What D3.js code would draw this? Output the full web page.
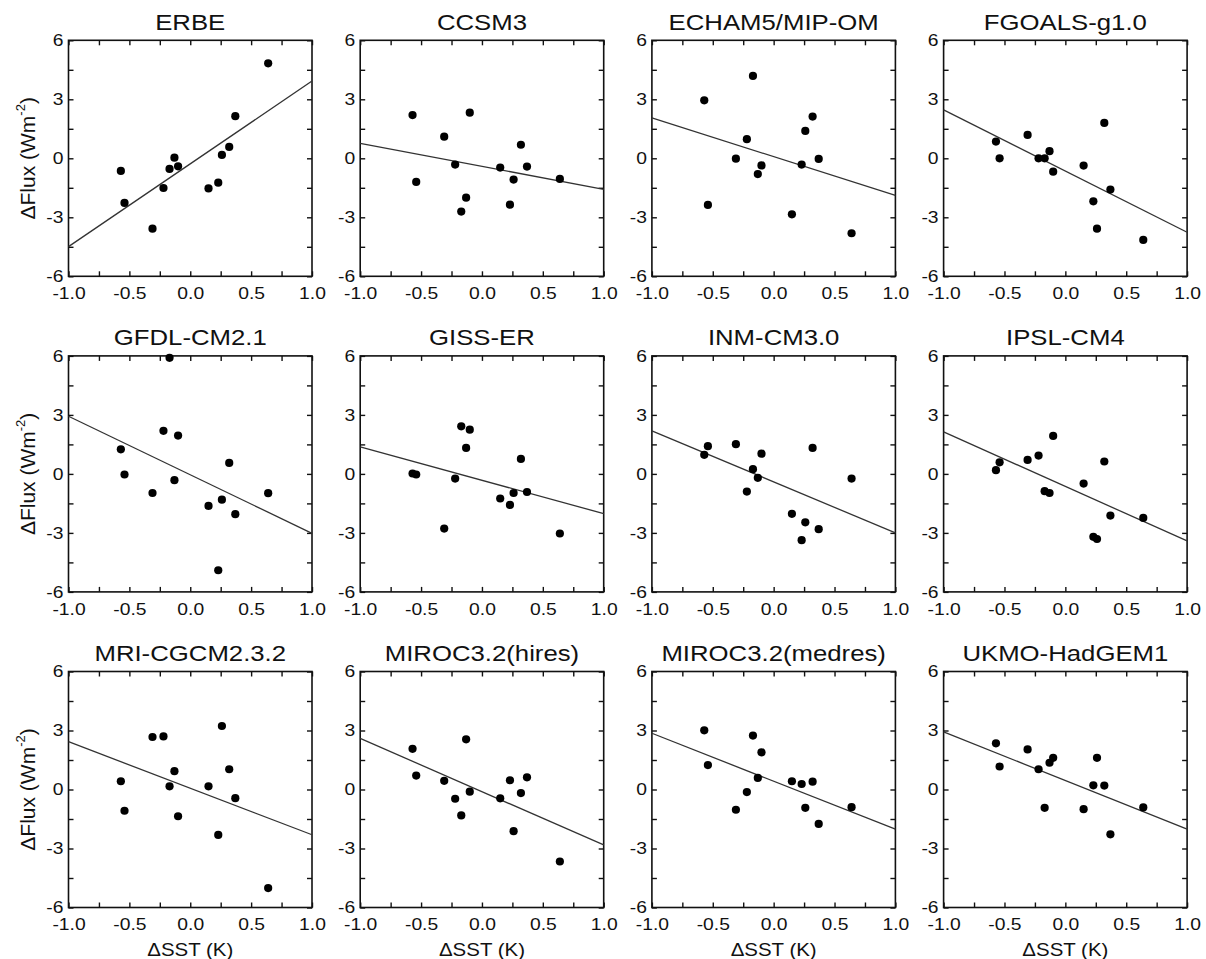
<!DOCTYPE html>
<html><head><meta charset="utf-8">
<script src="https://cdn.jsdelivr.net/npm/d3@7"></script>
<style>
body{margin:0;background:#fff}
text{font-family:"Liberation Sans",Arial,Helvetica,sans-serif;fill:#111}
</style>
</head><body>
<svg id="c" width="1206" height="959"></svg>
<script>
// ---- data ----
const models = ["ERBE","CCSM3","ECHAM5/MIP-OM","FGOALS-g1.0","GFDL-CM2.1","GISS-ER","INM-CM3.0","IPSL-CM4","MRI-CGCM2.3.2","MIROC3.2(hires)","MIROC3.2(medres)","UKMO-HadGEM1"];
const sst = [-0.57,-0.54,-0.31,-0.22,-0.17,-0.13,-0.10,0.15,0.23,0.26,0.32,0.37,0.64];
const fluxERBE   = [-0.64,-2.27,-3.58,-1.51,-0.54,0.03,-0.41,-1.53,-1.24,0.17,0.58,2.14,4.83];
const fluxCCSM3  = [2.20,-1.20,1.10,-0.32,-2.71,-2.00,2.32,-0.47,-2.36,-1.08,0.69,-0.42,-1.05];
const fluxECHAM5 = [2.95,-2.37,-0.02,0.97,4.19,-0.80,-0.36,-2.85,-0.32,1.39,2.12,-0.03,-3.81];
const fluxFGOALS = [0.85,0.00,1.19,0.00,0.00,0.36,-0.68,-0.37,-2.19,-3.58,1.80,-1.59,-4.15];
const fluxGFDL   = [1.25,-0.03,-0.97,2.19,5.90,-0.32,1.95,-1.63,-4.90,-1.31,0.56,-2.05,-0.98];
const fluxGISS   = [0.02,-0.03,-2.78,-0.24,2.42,1.32,2.25,-1.25,-1.58,-0.97,0.76,-0.92,-3.03];
const fluxINM    = [0.97,1.41,1.51,-0.90,0.24,-0.20,1.03,-2.03,-3.37,-2.46,1.32,-2.81,-0.24];
const fluxIPSL   = [0.19,0.59,0.71,0.93,-0.88,-0.97,1.93,-0.49,-3.20,-3.31,0.63,-2.12,-2.24];
const fluxMRI    = [0.42,-1.08,2.67,2.70,0.16,0.93,-1.36,0.16,-2.31,3.23,1.03,-0.44,-5.01];
const fluxMIROCh = [2.07,0.71,0.44,-0.47,-1.32,2.55,-0.11,-0.45,0.47,-2.12,-0.18,0.62,-3.66];
const fluxMIROCm = [3.01,1.24,-1.03,-0.13,2.74,0.59,1.89,0.42,0.28,-0.93,0.40,-1.75,-0.90];
const fluxUKMO   = [2.35,1.17,2.04,1.03,-0.93,1.36,1.61,-1.00,0.21,1.61,0.20,-2.28,-0.91];
const fluxes = [fluxERBE,fluxCCSM3,fluxECHAM5,fluxFGOALS,fluxGFDL,fluxGISS,fluxINM,fluxIPSL,fluxMRI,fluxMIROCh,fluxMIROCm,fluxUKMO];
// regression line end values (at dSST = -1 and +1)
const lineLeft  = [-4.49,0.76,2.05,2.46,2.93,1.37,2.19,2.14,2.43,2.60,2.86,2.93];
const lineRight = [3.93,-1.58,-1.88,-3.76,-3.02,-2.02,-3.00,-3.41,-2.30,-2.82,-2.02,-2.02];
const xTicks = [-1,-0.75,-0.5,-0.25,0,0.25,0.5,0.75,1];
const xTickLabelValues = [-1,-0.5,0,0.5,1];
const xTickLabels = ["-1.0","-0.5","0.0","0.5","1.0"];
const yTicks = [-6,-4.5,-3,-1.5,0,1.5,3,4.5,6];
const yTickLabelValues = [-6,-3,0,3,6];
const yTickLabels = ["-6","-3","0","3","6"];

// ---- layout ----
const svg = d3.select("#c");
const W = 243.5, H = 236;
const SX = 1.17;
function lab(vals, labels){
  return d => { const i = vals.findIndex(v => Math.abs(v-d) < 1e-9); return i < 0 ? "" : labels[i]; };
}

models.forEach((name,k)=>{
  const col = k%4, row = Math.floor(k/4);
  const x0 = 68.5 + col*291.7, y0 = 40.3 + row*315.6;
  const g = svg.append("g").attr("transform",`translate(${x0},${y0})`);
  const x = d3.scaleLinear().domain([-1,1]).range([0,W]);
  const y = d3.scaleLinear().domain([-6,6]).range([H,0]);

  const bottom = g.append("g").attr("transform",`translate(0,${H})`)
    .call(d3.axisBottom(x).tickValues(xTicks).tickSizeInner(-5).tickSizeOuter(0).tickPadding(11)
      .tickFormat(lab(xTickLabelValues,xTickLabels)));
  const top = g.append("g")
    .call(d3.axisTop(x).tickValues(xTicks).tickSizeInner(-5).tickSizeOuter(0).tickFormat(""));
  const left = g.append("g")
    .call(d3.axisLeft(y).tickValues(yTicks).tickSizeInner(-5).tickSizeOuter(0).tickPadding(4.3)
      .tickFormat(lab(yTickLabelValues,yTickLabels)));
  const right = g.append("g").attr("transform",`translate(${W},0)`)
    .call(d3.axisRight(y).tickValues(yTicks).tickSizeInner(-5).tickSizeOuter(0).tickFormat(""));
  [bottom,top,left,right].forEach(a=>{
    a.select(".domain").remove();
    a.selectAll(".tick line").attr("stroke","#111").attr("stroke-width",1.4);
    a.selectAll(".tick text").attr("font-size",16.5).attr("fill","#111")
      .attr("font-family","'Liberation Sans',Arial,sans-serif")
      .attr("transform",`scale(${SX},1)`);
  });

  g.append("rect").attr("x",0).attr("y",0).attr("width",W).attr("height",H)
    .attr("fill","none").attr("stroke","#111").attr("stroke-width",1.6);

  const line = d3.line().x(d=>x(d[0])).y(d=>y(d[1]));
  g.append("path").datum([[-1,lineLeft[k]],[1,lineRight[k]]])
    .attr("d",line).attr("fill","none").attr("stroke","#333").attr("stroke-width",1.3);

  g.selectAll("circle.pt").data(sst.map((s,i)=>[s,fluxes[k][i]])).join("circle")
    .attr("class","pt").attr("cx",d=>x(d[0])).attr("cy",d=>y(d[1])).attr("r",4.1).attr("fill","#000");

  g.append("text").attr("transform",`translate(${W/2},-10.5) scale(${SX},1)`)
    .attr("text-anchor","middle").attr("font-size",22).text(name);

  if (col === 0) {
    const t = svg.append("text")
      .attr("transform",`translate(27,${y0+H/2}) rotate(-90)`)
      .attr("text-anchor","middle").attr("dominant-baseline","central").attr("font-size",21);
    t.append("tspan").text("\u0394Flux (Wm");
    t.append("tspan").attr("font-size",13).attr("dy","-0.55em").text("-2");
    t.append("tspan").attr("dy","0.35em").text(")");
  }
  if (row === 2) {
    svg.append("text").attr("transform",`translate(${x0+W/2},${y0+H+48}) scale(${SX},1)`)
      .attr("text-anchor","middle").attr("font-size",17.5).text("\u0394SST (K)");
  }
});
</script>
</body></html>
